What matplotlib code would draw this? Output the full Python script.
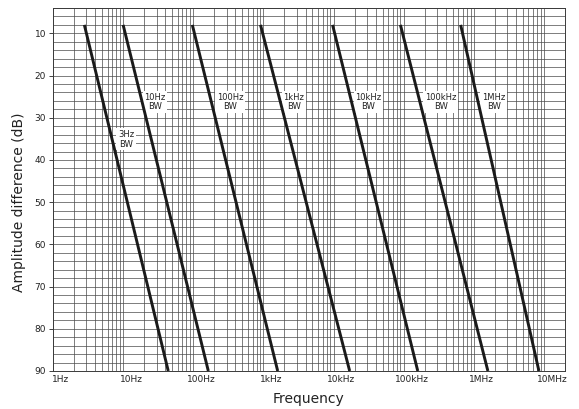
#!/usr/bin/env python3
from __future__ import annotations

import matplotlib

matplotlib.use("Agg")
import matplotlib.pyplot as plt
import matplotlib.transforms as mtransforms
import numpy as np
from matplotlib.ticker import FixedLocator, LogLocator, NullFormatter

# filter bandwidth curves: straight lines from (f_start, db_start) to (f_end, db_end)
bw_labels = ["3Hz\nBW", "10Hz\nBW", "100Hz\nBW", "1kHz\nBW", "10kHz\nBW", "100kHz\nBW", "1MHz\nBW"]
f_start = [2.8, 10.0, 97.0, 0.91e3, 9.7e3, 90e3, 650e3]
f_end = [44.0, 164.0, 1.6e3, 17e3, 159e3, 1.59e6, 8.5e6]
db_start = [8, 8, 8, 8, 8, 8, 8]
db_end = [90, 90, 90, 90, 90, 90, 90]

# where each bandwidth label sits
label_f = [11.0, 28.6, 338.0, 2.7e3, 31.6e3, 338e3, 1.93e6]
label_db = [35.1, 26.3, 26.3, 26.3, 26.3, 26.3, 26.3]

freq_ticks = [1, 10, 100, 1e3, 1e4, 1e5, 1e6, 1e7]
freq_tick_labels = ["1Hz", "10Hz", "100Hz", "1kHz", "10kHz", "100kHz", "1MHz", "10MHz"]
db_ticks = [10, 20, 30, 40, 50, 60, 70, 80, 90]


def main() -> None:
    W, H = 579, 409
    fig = plt.figure(figsize=(W / 100, H / 100), dpi=100)
    left, right, top, bottom = 53, 565, 8, 371
    ax = fig.add_axes([left / W, (H - bottom) / H, (right - left) / W, (bottom - top) / H])

    ax.set_xscale("log")
    ax.set_xlim(1, 2e7)
    ax.set_ylim(90, 4)

    # grid: every 2 dB, log minor in frequency
    grid_kw = dict(color="#4a4a4a", linewidth=0.5, zorder=1)
    for y in np.arange(4, 91, 2):
        ax.axhline(y, **grid_kw)
    xs = LogLocator(base=10, subs=np.arange(1, 10)).tick_values(1, 2e7)
    for x in xs:
        if 1 <= x <= 2e7:
            ax.axvline(x, **grid_kw)

    for fs, fe, ds, de in zip(f_start, f_end, db_start, db_end):
        ax.plot([fs, fe], [ds, de], color="#1a1a1a", linewidth=2.1, solid_capstyle="butt", zorder=5)

    for lab, lf, ld in zip(bw_labels, label_f, label_db):
        ax.text(lf, ld, lab, ha="center", va="center", fontsize=6, color="#222222",
                linespacing=1.1, zorder=4,
                bbox=dict(facecolor="white", edgecolor="none", pad=1.2))

    ax.xaxis.set_major_locator(FixedLocator(freq_ticks))
    ax.xaxis.set_minor_formatter(NullFormatter())
    ax.set_xticklabels(freq_tick_labels)
    ax.tick_params(axis="x", which="both", length=0, pad=3, labelsize=6.5, colors="#222222")
    shift = mtransforms.ScaledTranslation(8 / 100, 0, fig.dpi_scale_trans)
    for t in ax.get_xticklabels():
        t.set_transform(t.get_transform() + shift)

    ax.yaxis.set_major_locator(FixedLocator(db_ticks))
    ax.yaxis.set_minor_locator(FixedLocator([]))
    ax.tick_params(axis="y", which="major", length=3, width=0.6, pad=2, labelsize=6.5,
                   colors="#222222", direction="out")

    for s in ax.spines.values():
        s.set_color("#3a3a3a")
        s.set_linewidth(0.7)

    ax.set_xlabel("Frequency", fontsize=10, color="#222222", labelpad=6)
    ax.set_ylabel("Amplitude difference (dB)", fontsize=10, color="#222222")
    ax.yaxis.set_label_coords(-0.052, 0.466)

    fig.savefig("out.png", dpi=100)
    plt.close(fig)


if __name__ == "__main__":
    main()
